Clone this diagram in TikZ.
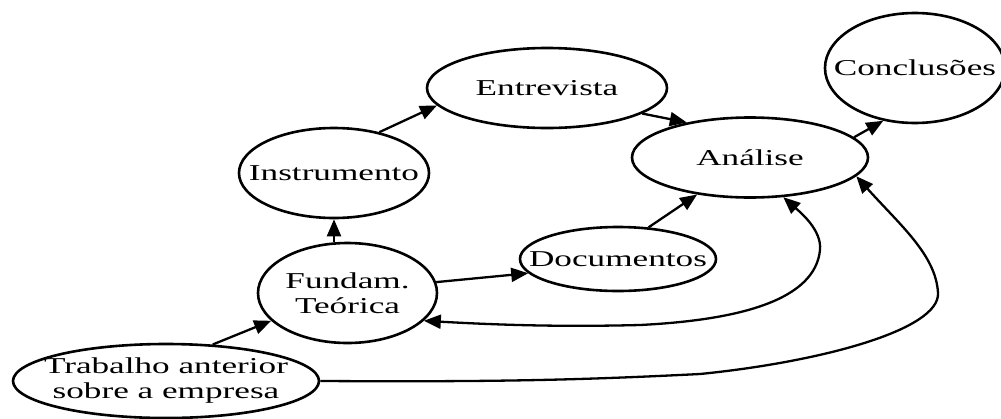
\documentclass[tikz,border=0pt]{standalone}
\usepackage{fontspec}
\setmainfont{Liberation Serif}[FakeStretch=1.55]
\usetikzlibrary{shapes.geometric,arrows.meta}
\tikzset{
  ell/.style={ellipse, draw, line width=2.6pt, inner sep=0pt},
  lbl/.style={align=center, inner sep=0pt},
  arr/.style={line width=2.3pt, -{Triangle[length=17pt,width=14pt]}},
  dbl/.style={line width=2.3pt, {Triangle[length=17pt,width=14pt]}-{Triangle[length=17pt,width=14pt]}}
}
\begin{document}
\begin{tikzpicture}[x=1pt,y=-1pt,font=\fontsize{22.7}{25}\selectfont]
\useasboundingbox (0,0) rectangle (1001,418);
\node[ell, minimum width=306pt, minimum height=74pt, label={[lbl]center:Trabalho anterior\\sobre a empresa}] (Trab) at (166,381) {};
\node[ell, minimum width=179pt, minimum height=100pt, label={[lbl]center:Fundam.\\Teórica}] (Fund) at (347.5,293) {};
\node[ell, minimum width=190pt, minimum height=90pt, label={[lbl]center:Instrumento}] (Instr) at (334,173) {};
\node[ell, minimum width=240pt, minimum height=80pt, label={[lbl]center:Entrevista}] (Entr) at (547,88) {};
\node[ell, minimum width=236pt, minimum height=80pt, label={[lbl]center:Análise}] (Anal) at (750,157.5) {};
\node[ell, minimum width=196pt, minimum height=64pt, label={[lbl]center:Documentos}] (Doc) at (618,259) {};
\node[ell, minimum width=180pt, minimum height=110pt, label={[lbl]center:Conclusões}] (Concl) at (915,68) {};

\draw[arr] (Trab.38) -- (Fund.200);
\draw[arr] (Fund.north -| Instr.south) -- (Instr.south);
\draw[arr] (Instr.42) -- (Entr.189);
\draw[arr] (Entr.-15) -- (Anal.151);
\draw[arr] (Fund.7) -- (Doc.189);
\draw[arr] (Doc.46) -- (Anal.215);
\draw[arr] (Anal.11) -- (Concl.239);

\coordinate (a1) at (640,325);
\coordinate (a2) at (820,250);
\draw[dbl] (Fund.-20) .. controls (500,325) and (560,327) .. (a1)
  .. controls (740,320) and (815,300) .. (a2)
  .. controls (822,230) and (800,212) .. (Anal.-50);

\coordinate (b1) at (700,374);
\coordinate (b2) at (938,293);
\draw[arr] (Trab.east) .. controls (500,382) and (580,380) .. (b1)
  .. controls (820,362) and (940,330) .. (b2)
  .. controls (936,255) and (900,225) .. (Anal.-10);
\end{tikzpicture}
\end{document}
